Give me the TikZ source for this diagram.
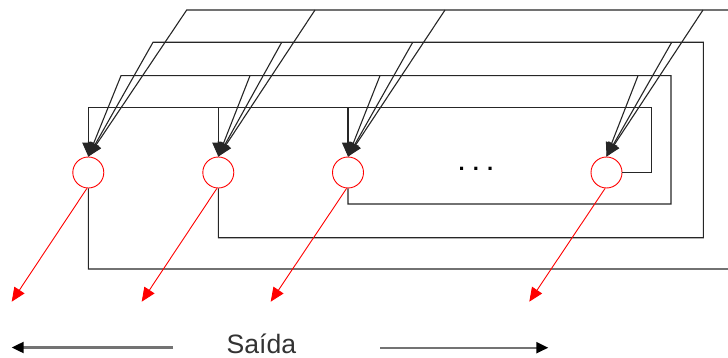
\documentclass[tikz,border=0pt]{standalone}
\usepackage{fontspec}
\setmainfont{Liberation Sans}
\usetikzlibrary{arrows.meta}
\tikzset{
  neuron/.style={circle,draw=red,line width=0.9pt,minimum size=31pt,inner sep=0pt},
  wire/.style={draw=black!85,line width=1.1pt},
  inarrow/.style={wire,-{Triangle[length=14pt,width=12pt]}},
  outarrow/.style={draw=red,line width=0.9pt,-{Triangle[length=14pt,width=12pt]}},
  dirarrow/.style={draw=black!55,line width=2.2pt,-{Triangle[length=12pt,width=11pt,color=black]}}
}
\begin{document}
\begin{tikzpicture}[x=1pt,y=-1pt]
\useasboundingbox (0,0) rectangle (728,358);
% neurons
\node[neuron] (n1) at (88.3,172.5) {};
\node[neuron] (n2) at (218.3,172.5) {};
\node[neuron] (n3) at (348,172.5) {};
\node[neuron] (n4) at (606.5,172.5) {};
\node[anchor=base,inner sep=0pt,font=\bfseries\fontsize{22}{22}\selectfont] (dots) at (476,171) {. . .};
% loop corners
\coordinate (c1) at (731,269);
\coordinate (t1) at (186.7,10);
\coordinate (c2) at (703.3,237.7);
\coordinate (t2) at (153,42.3);
\coordinate (c3) at (671,204);
\coordinate (t3) at (121,75.7);
\coordinate (c4) at (651.7,107.7);
% branch points
\coordinate (b12) at (315,10);
\coordinate (b13) at (445,10);
\coordinate (b14) at (703,10);
\coordinate (b22) at (281.7,42.3);
\coordinate (b23) at (412.7,42.3);
\coordinate (b24) at (671.7,42.3);
\coordinate (b32) at (250,75.7);
\coordinate (b33) at (380,75.7);
\coordinate (b34) at (638,75.7);
\coordinate (b42) at (218.3,107.7);
\coordinate (b43) at (348,107.7);
% loops
\draw[inarrow] (n1.south) |- (c1) |- (t1) -- (n1.north);
\draw[inarrow] (n2.south) |- (c2) |- (t2) -- (n1.north);
\draw[inarrow] (n3.south) |- (c3) |- (t3) -- (n1.north);
\draw[inarrow] (n4.east) -| (c4) -| (n1.north);
% branches
\draw[inarrow] (b12) -- (n2.north);
\draw[inarrow] (b13) -- (n3.north);
\draw[inarrow] (b14) -- (n4.north);
\draw[inarrow] (b22) -- (n2.north);
\draw[inarrow] (b23) -- (n3.north);
\draw[inarrow] (b24) -- (n4.north);
\draw[inarrow] (b32) -- (n2.north);
\draw[inarrow] (b33) -- (n3.north);
\draw[inarrow] (b34) -- (n4.north);
\draw[inarrow] (b42) -- (n2.north);
\draw[inarrow] (b43) -- (n3.north);
% outputs
\coordinate (o1) at (11.7,301.7);
\coordinate (o2) at (141.7,301.7);
\coordinate (o3) at (270.7,301.7);
\coordinate (o4) at (529.3,301.7);
\draw[outarrow] (n1.-95) -- (o1);
\draw[outarrow] (n2.-95) -- (o2);
\draw[outarrow] (n3.-95) -- (o3);
\draw[outarrow] (n4.-95) -- (o4);
% label
\node[anchor=base west,inner sep=0pt,text=black!80,font=\fontsize{26.6}{26.6}\selectfont] (saida) at (226.5,353.5) {Saída};
\coordinate (la) at (173,347.5);
\coordinate (lb) at (11.7,347.5);
\coordinate (ra) at (380,347.7);
\coordinate (rb) at (548.3,347.7);
\draw[dirarrow] (la) -- (lb);
\draw[dirarrow] (ra) -- (rb);
\end{tikzpicture}
\end{document}
